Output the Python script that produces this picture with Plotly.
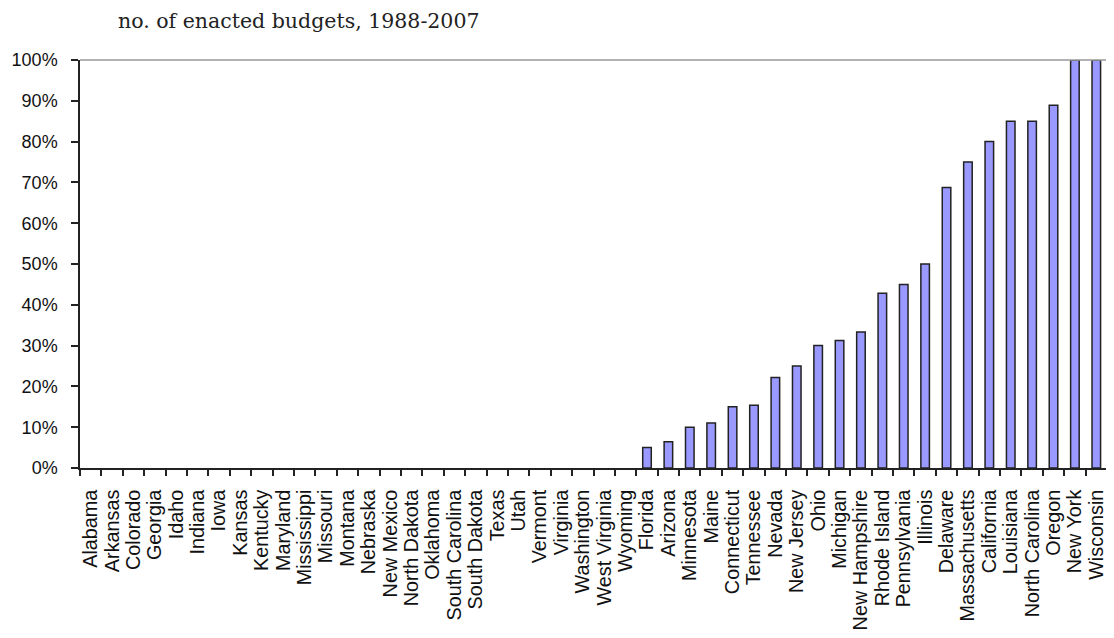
import plotly.graph_objects as go

states = ["Alabama", "Arkansas", "Colorado", "Georgia", "Idaho", "Indiana", "Iowa",
          "Kansas", "Kentucky", "Maryland", "Mississippi", "Missouri", "Montana",
          "Nebraska", "New Mexico", "North Dakota", "Oklahoma", "South Carolina",
          "South Dakota", "Texas", "Utah", "Vermont", "Virginia", "Washington",
          "West Virginia", "Wyoming", "Florida", "Arizona", "Minnesota", "Maine",
          "Connecticut", "Tennessee", "Nevada", "New Jersey", "Ohio", "Michigan",
          "New Hampshire", "Rhode Island", "Pennsylvania", "Illinois", "Delaware",
          "Massachusetts", "California", "Louisiana", "North Carolina", "Oregon",
          "New York", "Wisconsin"]
shares = [0.0] * 26 + [0.05, 0.0645, 0.10, 0.11, 0.15, 0.154, 0.222, 0.25, 0.30,
                       0.3125, 0.3333, 0.4286, 0.45, 0.50, 0.6875, 0.75, 0.80,
                       0.85, 0.85, 0.8889, 1.0, 1.0]
y_ticks = [0, 0.1, 0.2, 0.3, 0.4, 0.5, 0.6, 0.7, 0.8, 0.9, 1.0]
title_text = "no. of enacted budgets, 1988-2007"

# page body has an 8px margin; compensate so the chart lands where the reference is
OFF = 8

outline_w = [1.5 if v > 0 else 0 for v in shares]

fig = go.Figure(go.Bar(
    x=states, y=shares,
    marker=dict(color="#9999FF", line=dict(color="#222222", width=outline_w)),
))

fig.update_layout(
    width=1114, height=638,
    margin=dict(l=80 - OFF, r=7 + OFF, t=60 - OFF, b=638 - (60 - OFF) - 408),
    paper_bgcolor="white", plot_bgcolor="white",
    bargap=0.6,
    showlegend=False,
    title=dict(text=title_text, xref="container", x=(118 - OFF) / 1114, xanchor="left",
               yref="container", y=1 - 6 / 638, yanchor="top",
               font=dict(family="DejaVu Serif", size=20.5, color="#222222")),
    shapes=[
        dict(type="line", xref="paper", yref="paper", x0=0, x1=1, y0=1, y1=1,
             line=dict(color="#999999", width=1.5)),
        dict(type="line", xref="paper", yref="paper", x0=1, x1=1, y0=0, y1=1,
             line=dict(color="#999999", width=1.5)),
    ],
)

fig.update_xaxes(
    type="category", tickmode="array", tickvals=states, ticktext=states,
    tickangle=-90, tickson="boundaries", automargin=False,
    ticks="outside", ticklen=6, tickwidth=1.5, tickcolor="#222222",
    showline=True, linecolor="#222222", linewidth=1.5,
    showgrid=False, ticklabelstandoff=12,
    tickfont=dict(family="Liberation Sans, Arial", size=19.8, color="#111111"),
)
fig.update_yaxes(
    range=[0, 1], tickvals=y_ticks, tickformat=".0%", automargin=False,
    ticks="outside", ticklen=7, tickwidth=1.5, tickcolor="#222222",
    showline=True, linecolor="#222222", linewidth=1.5,
    showgrid=False, zeroline=False, ticklabelstandoff=10,
    tickfont=dict(family="Liberation Sans, Arial", size=18, color="#111111"),
)

fig.write_html("out.html")
